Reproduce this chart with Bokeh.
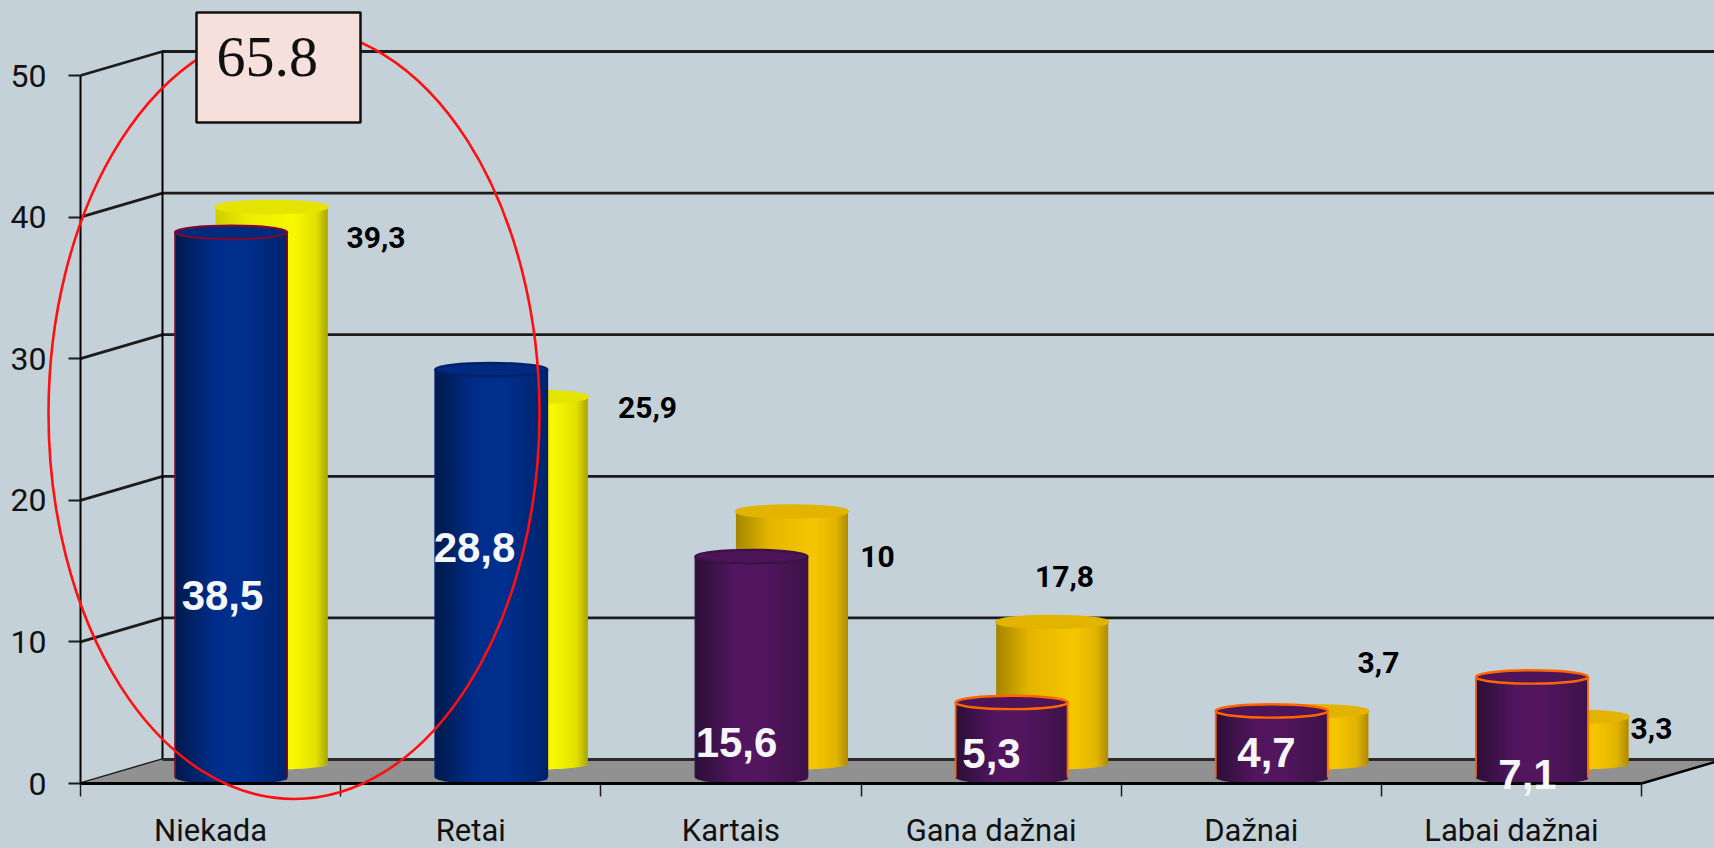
from bokeh.plotting import figure
from bokeh.models import FixedTicker, ColumnDataSource
from bokeh.core.properties import value
from bokeh.embed import file_html
from bokeh.resources import INLINE

# ---- data ----
categories = ["Niekada", "Retai", "Kartais", "Gana dažnai", "Dažnai", "Labai dažnai"]
back_values = [39.3, 25.9, 17.8, 10, 3.7, 3.3]
front_values = [38.5, 28.8, 15.6, 5.3, 4.7, 7.1]
back_labels = ["39,3", "25,9", "10", "17,8", "3,7", "3,3"]
front_labels = ["38,5", "28,8", "15,6", "5,3", "4,7", "7,1"]
y_ticks = [0, 10, 20, 30, 40, 50]
callout_text = "65.8"

# ---- layout (page pixels) ----
W, H = 1714, 848
X0, STEP = 80.0, 260.17     # x of axis origin, width of one category
Y0, UNIT = 783.0, 14.16     # y of value 0, pixels per value unit
BACK_DX, BACK_DY = 82.0, 24.0


def dx(px):
    return px / STEP


def dy(px):
    return px / UNIT


def px_x(px):
    return (px - X0) / STEP


def px_y(py):
    return (Y0 - py) / UNIT


back_label_px = [(375.5, 237), (647, 407), (877, 556), (1064, 576), (1378, 662), (1651, 728)]
front_label_px = [(222, 595), (474, 547), (736, 742), (991, 753), (1266, 752), (1527, 774)]

BG = "#c5d1d8"
LABEL_FONT = "Roboto"

p = figure(width=W, height=H, output_backend="svg", toolbar_location=None,
           x_range=(px_x(0), px_x(W)), y_range=(px_y(H), px_y(0)),
           min_border=0, min_border_left=0, min_border_right=0, min_border_top=0, min_border_bottom=0,
           background_fill_color=BG, border_fill_color=BG, outline_line_color=None)
p.grid.visible = False

# ---- walls ----
right_end = px_x(W) + 1
gx, gy = [], []
for t in y_ticks:
    gx.append([0, dx(BACK_DX), right_end])
    gy.append([t, t + dy(BACK_DY), t + dy(BACK_DY)])
p.multi_line(gx, gy, line_color="#1c1c1c", line_width=2.8)
p.line([dx(BACK_DX), dx(BACK_DX)], [dy(BACK_DY), y_ticks[-1] + dy(BACK_DY)], line_color="black", line_width=2)

# ---- floor ----
n_cat = len(categories)
p.patch([0, dx(BACK_DX), n_cat + dx(BACK_DX), n_cat],
        [0, dy(BACK_DY), dy(BACK_DY), 0], fill_color="#919191", line_color=None)
p.line([dx(BACK_DX), right_end], [dy(BACK_DY), dy(BACK_DY)], line_color="#2a2a2a", line_width=3)
p.line([n_cat, n_cat + dx(BACK_DX)], [0, dy(BACK_DY)], line_color="black", line_width=2.5)


# ---- cylinders ----
def hex_rgb(c):
    return tuple(int(c[i:i + 2], 16) for i in (1, 3, 5))


def shade(stops, f):
    for (a, ca), (b, cb) in zip(stops, stops[1:]):
        if f <= b:
            k = (f - a) / (b - a)
            ra, rb = hex_rgb(ca), hex_rgb(cb)
            return "#%02x%02x%02x" % tuple(round(u + (v - u) * k) for u, v in zip(ra, rb))
    return stops[-1][1]


BLUE = [(0, "#001a4c"), (0.35, "#002d8a"), (0.6, "#002f90"), (1, "#00246c")]
PURPLE = [(0, "#2c0f36"), (0.35, "#52155f"), (0.6, "#53165f"), (1, "#3e1249")]
YELLOW = [(0, "#cfcd00"), (0.3, "#eeed00"), (0.7, "#f8f800"), (0.9, "#e2e000"), (1, "#a8a500")]
GOLD = [(0, "#a48600"), (0.3, "#e4b600"), (0.7, "#f6c600"), (0.9, "#e0b300"), (1, "#ad8a00")]

RX = 56.0
SLICES = 56


def cylinder(center, val, base, ry, stops, top_fill, top_line, edge=None):
    l, r, b, t, c = [], [], [], [], []
    for k in range(SLICES):
        f = (k + 0.5) / SLICES
        u = 2 * f - 1
        l.append(center + dx(RX) * (2 * k / SLICES - 1))
        # each slice runs under the next one, so no seams show between them
        r.append(center + dx(RX) * (2 * min(k + 2, SLICES) / SLICES - 1))
        b.append(base - dy(ry) * (1 - u * u) ** 0.5)
        t.append(base + val)
        c.append(shade(stops, f))
    p.quad(left=l, right=r, bottom=b, top=t, fill_color=c, line_color=None)
    if edge:
        p.line([center - dx(RX)] * 2, [base, base + val], line_color=edge, line_width=1.8)
        p.line([center + dx(RX)] * 2, [base, base + val], line_color=edge, line_width=1.8)
    p.ellipse(x=[center], y=[base + val], width=dx(2 * RX), height=dy(2 * ry),
              fill_color=top_fill, line_color=top_line, line_width=2.4)


BACK_BASE, FRONT_BASE = dy(20), dy(6)
BACK_OFF, FRONT_OFF = dx(61), dx(20.5)
back_style = ["#e4e400", "#e4e400", "#e2b400", "#e2b400", "#e2b400", "#e2b400"]
back_stops = [YELLOW, YELLOW, GOLD, GOLD, GOLD, GOLD]
front_stops = [BLUE, BLUE, PURPLE, PURPLE, PURPLE, PURPLE]
front_top = ["#002a80", "#002a80", "#4d1459", "#4d1459", "#4d1459", "#4d1459"]
front_edge = ["#7a0a30", "#00206e", "#3c1247", "#ff6600", "#ff6600", "#ff6600"]

for i in range(n_cat):
    cylinder(i + 0.5 + BACK_OFF, back_values[i], BACK_BASE, 6, back_stops[i], back_style[i], back_style[i])
for i in range(n_cat):
    cylinder(i + 0.5 + FRONT_OFF, front_values[i], FRONT_BASE, 6.7, front_stops[i], front_top[i],
             front_edge[i], edge=front_edge[i])

# ---- axes ----
p.yaxis.fixed_location = 0
p.yaxis.bounds = (y_ticks[0], y_ticks[-1])
p.yaxis.ticker = FixedTicker(ticks=y_ticks)
p.yaxis.axis_line_color = "black"
p.yaxis.axis_line_width = 2
p.yaxis.major_tick_line_color = "#1c1c1c"
p.yaxis.major_tick_line_width = 2
p.yaxis.major_tick_out = 12
p.yaxis.major_tick_in = 0
p.yaxis.minor_tick_line_color = None
p.yaxis.major_label_standoff = 22
p.yaxis.major_label_text_font = LABEL_FONT
p.yaxis.major_label_text_font_size = "32px"
p.yaxis.major_label_text_color = "#111111"
p.yaxis.major_label_orientation = "horizontal"

centers = [i + 0.5 for i in range(n_cat)]
p.xaxis.fixed_location = 0
p.xaxis.bounds = (0, n_cat)
p.xaxis.ticker = FixedTicker(ticks=centers, minor_ticks=list(range(n_cat + 1)))
p.xaxis.major_label_overrides = {c: n for c, n in zip(centers, categories)}
p.xaxis.axis_line_color = "black"
p.xaxis.axis_line_width = 3
p.xaxis.major_tick_line_color = None
p.xaxis.major_tick_out = 0
p.xaxis.major_tick_in = 0
p.xaxis.minor_tick_line_color = "#1c1c1c"
p.xaxis.minor_tick_line_width = 1.5
p.xaxis.minor_tick_out = 13
p.xaxis.minor_tick_in = 0
p.xaxis.major_label_standoff = 15
p.xaxis.major_label_text_font = LABEL_FONT
p.xaxis.major_label_text_font_size = "31px"
p.xaxis.major_label_text_color = "#111111"

# ---- red ellipse and callout ----
p.ellipse(x=[px_x(293.5)], y=[px_y(413)], width=dx(491), height=dy(771), fill_color=None,
          line_color="#ff0f0f", line_width=2.6, level="overlay")
p.quad(left=[px_x(196)], right=[px_x(360)], top=[px_y(12)], bottom=[px_y(122)],
       fill_color="#f5e0db", line_color="#111111", line_width=2.5, level="overlay")
p.text(x=[px_x(216)], y=[px_y(56)], text=[callout_text], text_font=value("Liberation Serif"),
       text_font_size="58px", text_color="#111111", text_align="left", text_baseline="middle", level="overlay")

# ---- value labels ----
back_src = ColumnDataSource(dict(x=[px_x(a) for a, _ in back_label_px], y=[px_y(b) for _, b in back_label_px],
                                 t=back_labels))
p.text(x="x", y="y", text="t", source=back_src, text_font=value(LABEL_FONT), text_font_style="bold",
       text_font_size="30px", text_color="black", text_align="center", text_baseline="middle", level="overlay")
front_src = ColumnDataSource(dict(x=[px_x(a) for a, _ in front_label_px], y=[px_y(b) for _, b in front_label_px],
                                  t=front_labels))
p.text(x="x", y="y", text="t", source=front_src, text_font=value("Liberation Sans"), text_font_style="bold",
       text_font_size="42px", text_color="#f4f6f8", text_align="center", text_baseline="middle", level="overlay")

template = """{% block preamble %}<style>html, body { margin: 0; padding: 0; overflow: hidden; background: """ + BG + """; }</style>{% endblock %}
"""
open("out.html", "w").write(file_html(p, INLINE, template=template))
